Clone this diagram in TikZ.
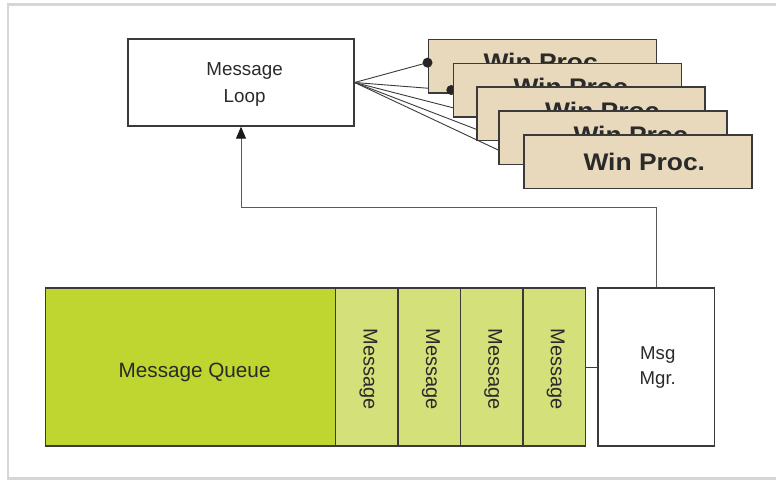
\documentclass[tikz,border=0pt]{standalone}
\usepackage{fontspec}
\setmainfont{Liberation Sans}
\newfontfamily\wpfont[FakeStretch=1.1]{Liberation Sans}
\usetikzlibrary{arrows.meta,calc}
\definecolor{qgreen}{HTML}{BED62F}
\definecolor{mgreen}{HTML}{D4E07A}
\definecolor{tanfill}{HTML}{E8D9BC}
\definecolor{framegray}{HTML}{D6D6D6}
\definecolor{edgegray}{HTML}{3A3A3A}
\definecolor{txt}{HTML}{2A2A2A}
\pgfdeclarelayer{lines}
\pgfdeclarelayer{front}
\pgfsetlayers{lines,main,front}
\begin{document}
\begin{tikzpicture}[x=1pt,y=-1pt,
  box/.style={draw=edgegray, line width=1.3pt, rectangle, inner sep=0pt},
  winbox/.style={box, fill=tanfill, minimum width=228pt, minimum height=53.5pt, line width=1.6pt},
  wintext/.style={anchor=base west, inner sep=0pt, text=txt, font=\wpfont\fontsize{24}{28}\selectfont\bfseries},
  lbl/.style={inner sep=0pt, text=txt},
  conn/.style={draw=edgegray, line width=0.9pt},
  dotmark/.style={fill=black!85}
]
\useasboundingbox (0,0) rectangle (776,480);
\draw[framegray, line width=2.5pt] (7.8,4.6) rectangle (800,478.3);

% Message Loop
\node[box, fill=white, minimum width=226pt, minimum height=87pt] (ml) at (241,82.5) {};
\node[lbl, align=center, font=\fontsize{18.8}{27}\selectfont] (mltext) at (244.6,84.4) {Message\\Loop};

% Win Proc stack
\node[winbox] (w1) at (542.3,66.05) {};
\node[wintext] (t1) at (483.3,70) {Win Proc.};
\begin{pgfonlayer}{front}
\node[winbox] (w2) at (567.3,90.05) {};
\node[wintext] (t2) at (513.3,95.6) {Win Proc.};
\node[winbox] (w3) at (591,113.75) {};
\node[wintext] (t3) at (545,119) {Win Proc.};
\node[winbox] (w4) at (613,137.75) {};
\node[wintext] (t4) at (573.3,143.3) {Win Proc.};
\node[winbox] (w5) at (638,161.75) {};
\node[wintext] (t5) at (583.3,170.7) {Win Proc.};
\end{pgfonlayer}

\coordinate (d1) at ($(w1.west)+(0,-3.4)$);
\coordinate (d2) at ($(w2.west)+(-1.2,0)$);
\fill[dotmark] (d1) circle (5pt);
\fill[dotmark] (d2) circle (5pt);

\begin{pgfonlayer}{lines}
\draw[conn] (ml.east) -- (d1);
\draw[conn] (ml.east) -- (d2);
\draw[conn] (ml.east) -- (w3.west);
\draw[conn] (ml.east) -- (w4.west);
\draw[conn] (ml.east) -- (w5.west);
\end{pgfonlayer}

% Bottom row
\node[box, fill=qgreen, minimum width=290pt, minimum height=158pt] (mq) at (190.65,367) {};
\node[lbl, anchor=base, font=\fontsize{20.7}{24}\selectfont] (mqtext) at (194.6,377.3) {Message Queue};

\node[box, fill=mgreen, minimum width=62.4pt, minimum height=158pt] (m1) at (366.9,367) {};
\node[box, fill=mgreen, minimum width=62.4pt, minimum height=158pt] (m2) at (429.3,367) {};
\node[box, fill=mgreen, minimum width=62.4pt, minimum height=158pt] (m3) at (491.7,367) {};
\node[box, fill=mgreen, minimum width=62.4pt, minimum height=158pt] (m4) at (554.1,367) {};
\foreach \i in {1,2,3,4}{
  \node[lbl, rotate=-90, font=\fontsize{20}{24}\selectfont] (m\i t) at ($(m\i.center)+(1.5,2)$) {Message};
}

\node[box, fill=white, minimum width=116.5pt, minimum height=158pt] (mm) at (656.25,367) {};
\node[lbl, align=center, font=\fontsize{18.6}{24.3}\selectfont] (mmtext) at (657.8,367.45) {Msg\\Mgr.};

\draw[conn, line width=1pt] (m4.east) -- (mm.west);
\draw[conn, line width=1pt, draw=black!65, -{Triangle[length=12pt,width=10pt,color=black!90]}] (mm.north) -- ++(0,-80) -| (ml.south);
\end{tikzpicture}
\end{document}
